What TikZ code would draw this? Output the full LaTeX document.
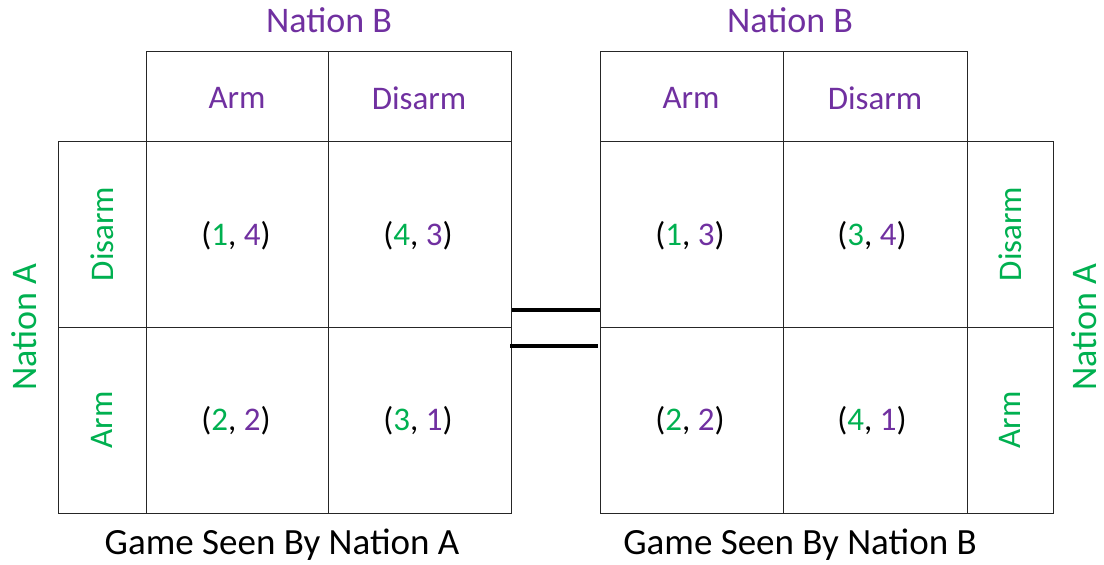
\documentclass[tikz,border=0pt]{standalone}
\usepackage{fontspec}
\setmainfont{Carlito}
\definecolor{pur}{HTML}{7030A0}
\definecolor{grn}{HTML}{00B050}
\begin{document}
\begin{tikzpicture}[x=1bp,y=-1bp,
  grid/.style={draw=black!85,line width=1bp},
  cellfont/.style={font=\fontsize{33bp}{38bp}\selectfont},
  bigfont/.style={font=\fontsize{36bp}{40bp}\selectfont},
  capfont/.style={font=\fontsize{37bp}{42bp}\selectfont},
  eqline/.style={line width=3.4bp,black}]
\useasboundingbox (0,0) rectangle (1104,565);
% left table grid
\draw[grid] (146,52) rectangle (511,513);
\draw[grid] (58,142) rectangle (511,513);
\draw[grid] (146,142) -- (511,142);
\draw[grid] (328,52) -- (328,513);
\draw[grid] (58,327) -- (511,327);
% right table grid
\draw[grid] (600,52) rectangle (967,513);
\draw[grid] (600,142) rectangle (1053,513);
\draw[grid] (783,52) -- (783,513);
\draw[grid] (600,327) -- (1053,327);
% equal sign
\coordinate (e1a) at (512,310); \coordinate (e1b) at (600,310);
\coordinate (e2a) at (510,346); \coordinate (e2b) at (598,346);
\draw[eqline] (e1a) -- (e1b);
\draw[eqline] (e2a) -- (e2b);
% left labels
\node[bigfont,text=pur] (nbL) at (329,20) {Nation B};
\node[cellfont,text=pur] (armL) at (237,98) {Arm};
\node[cellfont,text=pur] (disL) at (419,98) {Disarm};
\node[bigfont,text=grn,rotate=90,inner sep=0pt] (naL) at (24,327) {Nation A};
\node[cellfont,text=grn,rotate=90] (rdisL) at (102,234) {Disarm};
\node[cellfont,text=grn,rotate=90] (rarmL) at (102,420) {Arm};
\node[cellfont] (c11) at (236,236) {(\textcolor{grn}{1}, \textcolor{pur}{4})};
\node[cellfont] (c12) at (418,236) {(\textcolor{grn}{4}, \textcolor{pur}{3})};
\node[cellfont] (c21) at (236,421) {(\textcolor{grn}{2}, \textcolor{pur}{2})};
\node[cellfont] (c22) at (418,421) {(\textcolor{grn}{3}, \textcolor{pur}{1})};
\node[capfont] (capL) at (282,545) {Game Seen By Nation A};
% right labels
\node[bigfont,text=pur] (nbR) at (790,20) {Nation B};
\node[cellfont,text=pur] (armR) at (691,98) {Arm};
\node[cellfont,text=pur] (disR) at (875,98) {Disarm};
\node[bigfont,text=grn,rotate=90,inner sep=0pt] (naR) at (1084,327) {Nation A};
\node[cellfont,text=grn,rotate=90] (rdisR) at (1010,234) {Disarm};
\node[cellfont,text=grn,rotate=90] (rarmR) at (1010,420) {Arm};
\node[cellfont] (d11) at (690,236) {(\textcolor{grn}{1}, \textcolor{pur}{3})};
\node[cellfont] (d12) at (872,236) {(\textcolor{grn}{3}, \textcolor{pur}{4})};
\node[cellfont] (d21) at (690,421) {(\textcolor{grn}{2}, \textcolor{pur}{2})};
\node[cellfont] (d22) at (872,421) {(\textcolor{grn}{4}, \textcolor{pur}{1})};
\node[capfont] (capR) at (800,545) {Game Seen By Nation B};
\end{tikzpicture}
\end{document}
